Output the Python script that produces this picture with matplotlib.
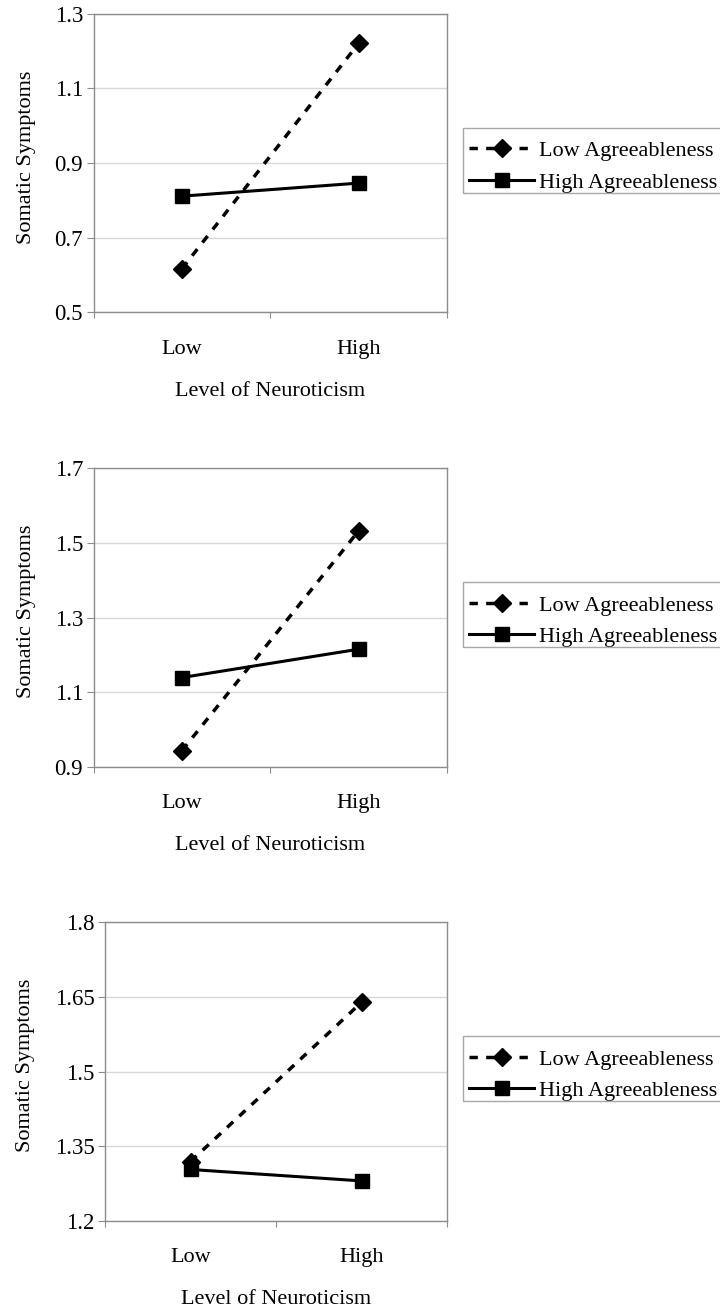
import matplotlib
matplotlib.use("Agg")
import matplotlib.pyplot as plt
from matplotlib.patches import Rectangle

plt.rcParams['font.family'] = ['Liberation Serif', 'DejaVu Serif']

categories = ["Low", "High"]
series_names = ["Low Agreeableness", "High Agreeableness"]

panel1_low_agree = [0.616, 1.221]
panel1_high_agree = [0.811, 0.846]
panel2_low_agree = [0.943, 1.532]
panel2_high_agree = [1.139, 1.215]
panel3_low_agree = [1.319, 1.639]
panel3_high_agree = [1.303, 1.280]

panel1_yticks = [0.5, 0.7, 0.9, 1.1, 1.3]
panel2_yticks = [0.9, 1.1, 1.3, 1.5, 1.7]
panel3_yticks = [1.2, 1.35, 1.5, 1.65, 1.8]
panel1_yticklabels = ["0.5", "0.7", "0.9", "1.1", "1.3"]
panel2_yticklabels = ["0.9", "1.1", "1.3", "1.5", "1.7"]
panel3_yticklabels = ["1.2", "1.35", "1.5", "1.65", "1.8"]

xlabel = "Level of Neuroticism"
ylabel = "Somatic Symptoms"

W, H = 720, 1310
fig = plt.figure(figsize=(W / 100, H / 100), dpi=100)

panels = [
    (panel1_low_agree, panel1_high_agree, panel1_yticks, panel1_yticklabels, (93.5, 14, 447, 312)),
    (panel2_low_agree, panel2_high_agree, panel2_yticks, panel2_yticklabels, (93.5, 468.3, 447, 766.7)),
    (panel3_low_agree, panel3_high_agree, panel3_yticks, panel3_yticklabels, (105, 922.3, 447, 1220.7)),
]

spine_color = "#8c8c8c"
grid_color = "#d8d8d8"
fs = 16

for low, high, yt, ytl, (x0, y0, x1, y1) in panels:
    w, h = x1 - x0, y1 - y0
    ax = fig.add_axes([x0 / W, 1 - y1 / H, w / W, h / H])
    xs = [0.5, 1.5]
    ax.plot(xs, low, color="black", linestyle=(0, (2.4, 2.4)), lw=2.5,
            marker="D", markersize=9, label=series_names[0], zorder=3)
    ax.plot(xs, high, color="black", linestyle="-", lw=2.2,
            marker="s", markersize=9.5, label=series_names[1], zorder=4)
    ax.set_xlim(0, 2)
    ax.set_ylim(yt[0], yt[-1])
    ax.set_yticks(yt)
    ax.set_yticklabels(ytl, fontsize=fs + 0.5)
    ax.set_xticks([0, 1, 2])
    ax.set_xticklabels([])
    ax.set_xticks(xs, minor=True)
    ax.set_xticklabels(categories, minor=True, fontsize=fs)
    ax.tick_params(axis="x", which="major", direction="out", length=4.5, color=spine_color)
    ax.tick_params(axis="x", which="minor", length=0, pad=20)
    ax.tick_params(axis="y", direction="out", length=5, color=spine_color, pad=2.5)
    for s in ax.spines.values():
        s.set_color(spine_color)
        s.set_linewidth(1.0)
    ax.yaxis.grid(True, color=grid_color, lw=1.0)
    ax.set_axisbelow(True)
    ax.set_xlabel(xlabel, fontsize=fs)
    ax.xaxis.set_label_coords(0.5, -79 / h)
    ax.xaxis.label.set_verticalalignment("center")
    ax.set_ylabel(ylabel, fontsize=fs)
    ax.yaxis.set_label_coords((26 - x0) / w, 0.5 + 6 / h)
    ax.yaxis.label.set_verticalalignment("center")

    # legend box (frame drawn separately so the rows sit as in the reference)
    bx0, by0, bx1, by1 = 462.7, y0 + 114, 722, y0 + 179
    fig.add_artist(Rectangle((bx0 / W, 1 - by1 / H), (bx1 - bx0) / W, (by1 - by0) / H,
                             transform=fig.transFigure, fill=False,
                             edgecolor="#a8a8a8", lw=1.0, zorder=1))
    leg = ax.legend(loc="upper left",
                    bbox_to_anchor=((bx0 - x0) / w, (y1 - by0 - 6) / h),
                    fontsize=fs, frameon=False, handlelength=2.9,
                    handletextpad=0.22, borderpad=0.3, labelspacing=0.5, borderaxespad=0)
    leg.set_zorder(5)

fig.savefig("out.png", dpi=100)
